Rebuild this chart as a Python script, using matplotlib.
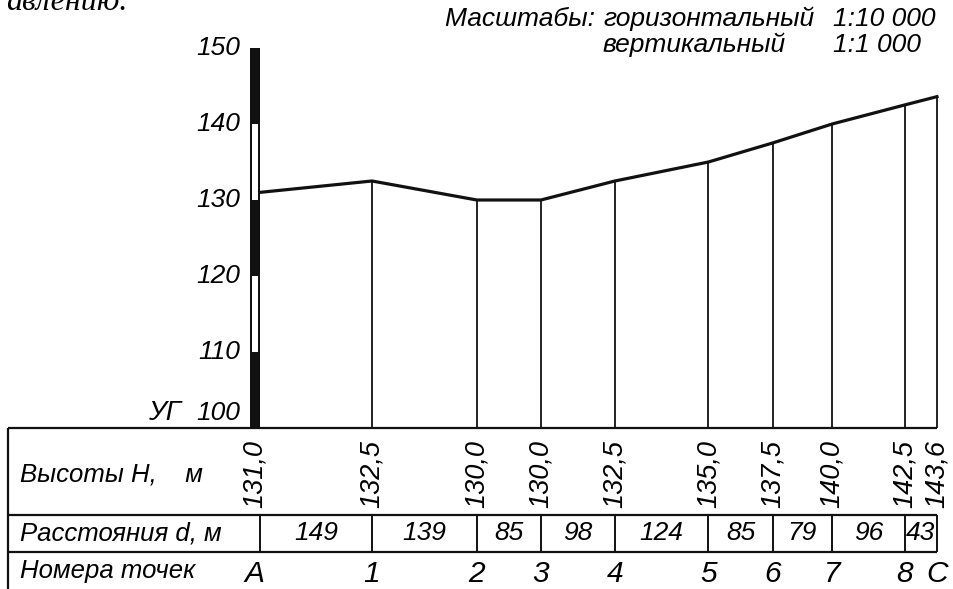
import matplotlib
matplotlib.use('Agg')
import numpy as np
import matplotlib.pyplot as plt
from matplotlib.patches import Rectangle

# profile data
points = ['A', '1', '2', '3', '4', '5', '6', '7', '8', 'C']
heights = [131.0, 132.5, 130.0, 130.0, 132.5, 135.0, 137.5, 140.0, 142.5, 143.6]
distances = [149, 139, 85, 98, 124, 85, 79, 96, 43]
y_ticks = [100, 110, 120, 130, 140, 150]

row_labels = ['Высоты H,    м', 'Расстояния d, м', 'Номера точек']
scale_title = 'Масштабы:'
scale_names = ['горизонтальный', 'вертикальный']
scale_values = ['1:10 000', '1:1 000']

# layout (pixels of the 954x589 picture)
W, H = 954, 589
X0_PX = 259.6        # pixel of point A
PX_PER_M = 0.7543    # horizontal scale
PX_PER_H = 7.6       # vertical scale
BASE_PX = 428        # level 100 / top of the table
ROW1, ROW2 = 87, 124 # row borders below the table top

plt.rcParams['font.family'] = ['Liberation Sans', 'DejaVu Sans']
plt.rcParams['font.style'] = 'italic'
FS = 19

def px2x(px):
  return (px - X0_PX) / PX_PER_M

cum = np.concatenate([[0], np.cumsum(distances)])
xlim = (px2x(0), px2x(W))
bar_l, bar_r = px2x(250), px2x(259.6)
label_x = cum.astype(float).copy()
label_x[0] = (bar_l + bar_r) / 2

fig = plt.figure(figsize=(W / 100, H / 100), dpi=100)

# upper part: profile
ax = fig.add_axes([0, (H - BASE_PX) / H, 1, BASE_PX / H])
ax.set_xlim(xlim)
ax.set_ylim(100, 100 + BASE_PX / PX_PER_H)
ax.axis('off')

ax.plot(cum, heights, color='#111111', lw=2.3, solid_joinstyle='miter', clip_on=False)
ax.vlines(cum[1:], 100, heights[1:], color='#111111', lw=1.3, clip_on=False)

# elevation bar
ax.add_patch(Rectangle((bar_l, 100), bar_r - bar_l, 50, facecolor='#111111',
                       edgecolor='none', clip_on=False))
inset = 2.0 / PX_PER_M
for lo in [110, 130]:
  ax.add_patch(Rectangle((bar_l + inset, lo), bar_r - bar_l - 2 * inset, 10,
                         facecolor='white', edgecolor='none', clip_on=False))

for v in y_ticks:
  if v == 100:
    ax.annotate(str(v), (bar_l, v), xytext=(-7, 6), textcoords='offset points',
                ha='right', va='baseline', fontsize=FS)
    ax.annotate('УГ', (bar_l, v), xytext=(-50, 6), textcoords='offset points',
                ha='right', va='baseline', fontsize=FS + 1)
  else:
    ax.annotate(str(v), (bar_l, v), xytext=(-7, 0), textcoords='offset points',
                ha='right', va='center', fontsize=FS)

# scale note
fig.text(602 / W, 1 - 26 / H, scale_title + ' ', ha='right', va='baseline', fontsize=FS)
for i in range(len(scale_names)):
  yb = 1 - (26 + 26 * i) / H
  fig.text(603 / W, yb, scale_names[i], ha='left', va='baseline', fontsize=FS)
  fig.text(833 / W, yb, scale_values[i], ha='left', va='baseline', fontsize=FS)

# cut line of the page text above
fig.text(127 / W, 1 - 10 / H, 'авлению.', ha='right', va='baseline', fontsize=23,
         family=['Liberation Serif', 'DejaVu Serif'], style='italic')

# lower part: table
tb = fig.add_axes([0, 0, 1, (H - BASE_PX) / H])
tb.set_xlim(xlim)
tb.set_ylim(H - BASE_PX, 0)
tb.axis('off')

left = px2x(8)
tb.hlines([0, ROW1, ROW2], left, cum[-1], color='#111111', lw=1.6, clip_on=False)
tb.vlines(left, 0, H - BASE_PX, color='#111111', lw=1.6, clip_on=False)
tb.vlines(cum, ROW1, ROW2, color='#111111', lw=1.4, clip_on=False)

row_y = [ROW1 / 2 + 3, (ROW1 + ROW2) / 2, ROW2 + 19]
for lab, yy in zip(row_labels, row_y):
  tb.text(px2x(20), yy, lab, ha='left', va='center', fontsize=FS - 0.5)

for xx, h in zip(label_x, heights):
  tb.text(xx, row_y[0], '{:.1f}'.format(h).replace('.', ','), rotation=90,
          ha='center', va='center', fontsize=FS + 0.5)

for i, d in enumerate(distances):
  tb.text((cum[i] + cum[i + 1]) / 2, row_y[1], str(d), ha='center', va='center', fontsize=FS)

for xx, p in zip(label_x, points):
  tb.text(xx, H - BASE_PX - 7, p, ha='center', va='baseline', fontsize=21.5)

fig.savefig('out.png', dpi=100, facecolor='white')
